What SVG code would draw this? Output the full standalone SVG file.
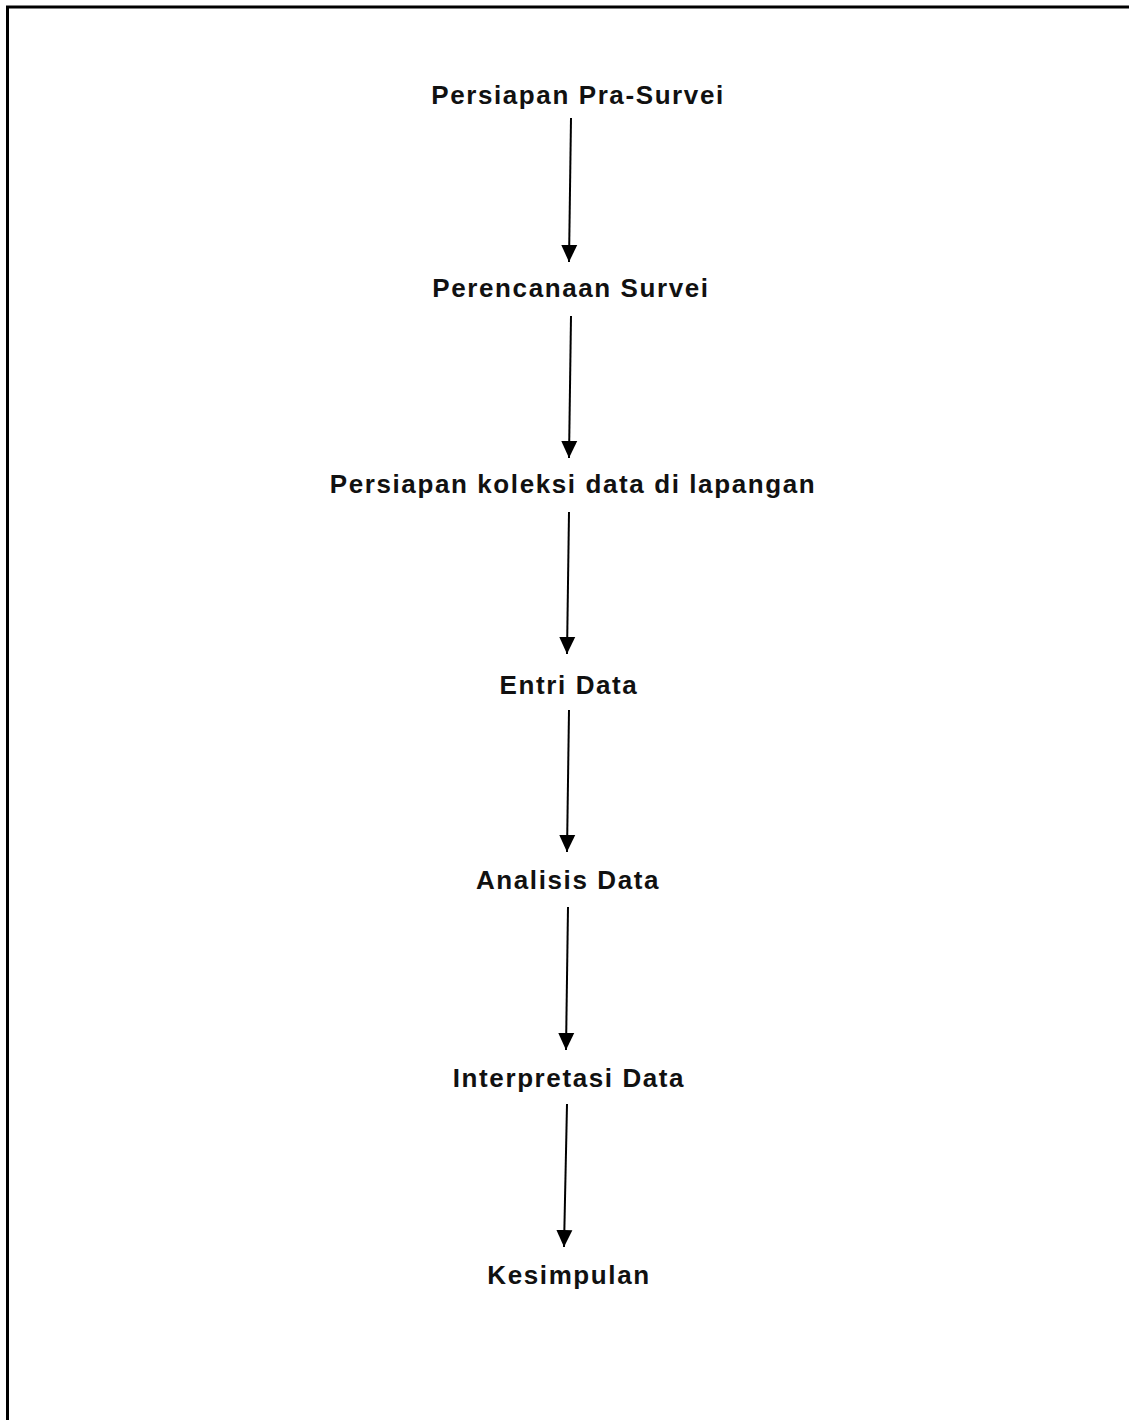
<svg xmlns="http://www.w3.org/2000/svg" width="1129" height="1420" viewBox="0 0 1129 1420">
<defs>
<marker id="ah" markerUnits="userSpaceOnUse" markerWidth="18" markerHeight="18" viewBox="0 0 18 16" refX="17" refY="8" orient="auto">
<path d="M0,0 L17,8 L0,16 Z" fill="#000"/>
</marker>
<style>
.lbl{font-family:"Liberation Sans",Arial,sans-serif;font-weight:bold;font-size:26px;letter-spacing:1.6px;fill:#111;text-anchor:middle}
.edge{stroke:#000;stroke-width:2;fill:none;marker-end:url(#ah)}
</style>
</defs>
<rect width="1129" height="1420" fill="#fff"/>
<path d="M7.5,1420 V7 H1129" fill="none" stroke="#000" stroke-width="3"/>
<g id="n1"><text class="lbl" x="578" y="104">Persiapan Pra-Survei</text></g>
<g id="n2"><text class="lbl" x="571" y="297">Perencanaan Survei</text></g>
<g id="n3"><text class="lbl" x="573" y="493">Persiapan koleksi data di lapangan</text></g>
<g id="n4"><text class="lbl" x="569" y="694">Entri Data</text></g>
<g id="n5"><text class="lbl" x="568" y="889">Analisis Data</text></g>
<g id="n6"><text class="lbl" x="569" y="1087">Interpretasi Data</text></g>
<g id="n7"><text class="lbl" x="569" y="1284">Kesimpulan</text></g>
<g id="edges">
<line class="edge" x1="571" y1="118" x2="569" y2="262"/>
<line class="edge" x1="571" y1="316" x2="569" y2="458"/>
<line class="edge" x1="569" y1="512" x2="567" y2="654"/>
<line class="edge" x1="569" y1="710" x2="567" y2="852"/>
<line class="edge" x1="568" y1="907" x2="566" y2="1050"/>
<line class="edge" x1="567" y1="1104" x2="564" y2="1247"/>
</g>
</svg>
